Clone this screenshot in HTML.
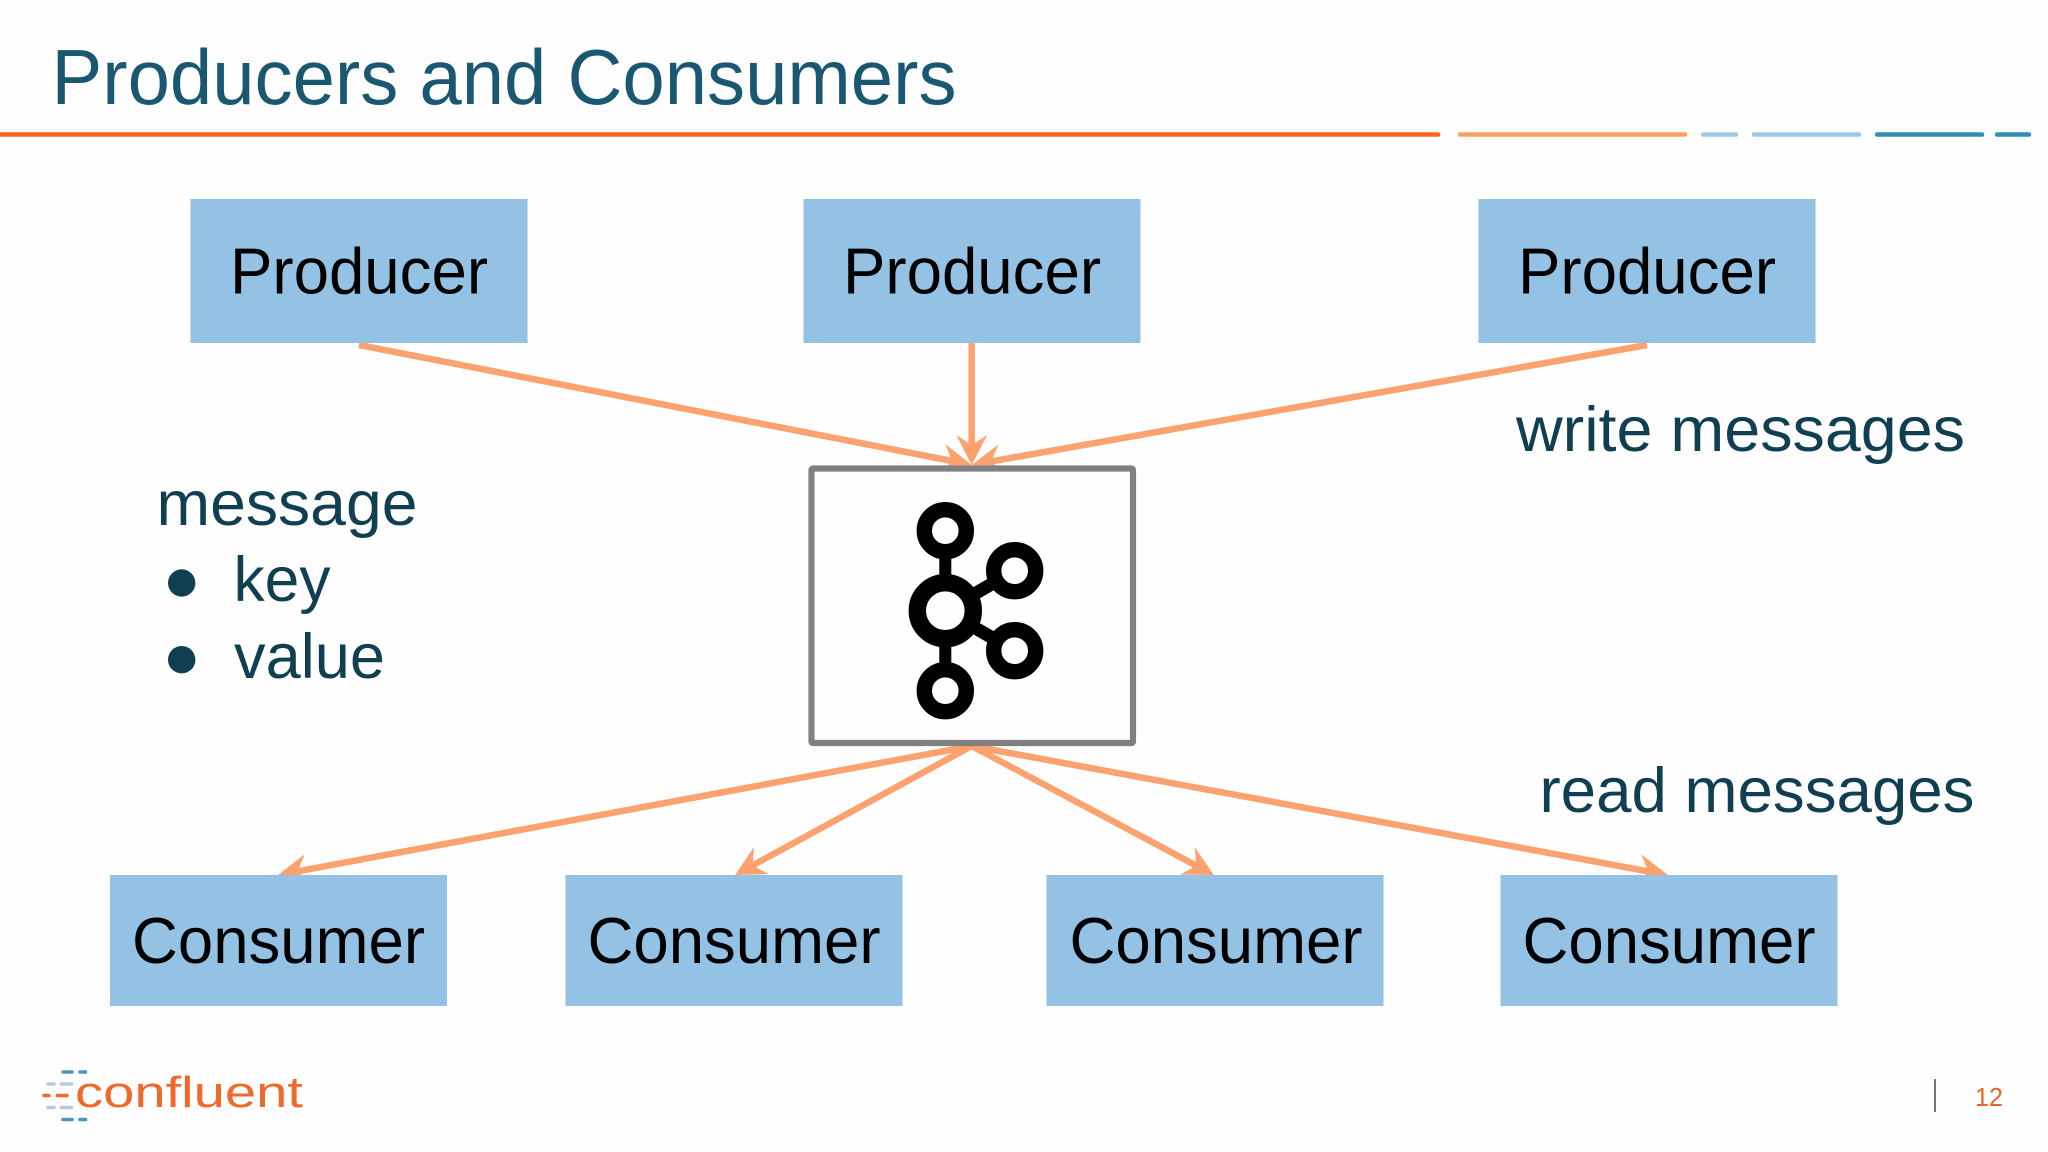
<!DOCTYPE html>
<html lang="en">
<head>
<meta charset="utf-8">
<title>Producers and Consumers</title>
<style>
html,body{margin:0;padding:0;background:#fefefe;width:2048px;height:1152px;overflow:hidden}
svg{display:block;font-family:"Liberation Sans",sans-serif}
</style>
</head>
<body>
<svg xmlns="http://www.w3.org/2000/svg" width="2048" height="1152" viewBox="0 0 2048 1152">
<defs>
<marker id="h" markerUnits="userSpaceOnUse" viewBox="-12 -18 34 36" markerWidth="34" markerHeight="36" refX="0" refY="0" orient="auto">
<path d="M-10,-15.5 L20,0 L-10,15.5 L0,0 z" fill="#fba26f"/>
</marker>
</defs>
<rect width="2048" height="1152" fill="#fefefe"/>

<!-- title -->
<text x="51.5" y="104" font-size="78" fill="#1a5872" textLength="905" lengthAdjust="spacingAndGlyphs">Producers and Consumers</text>

<!-- header rule -->
<g stroke-width="4.5" stroke-linecap="round" fill="none">
<line x1="0" y1="134.5" x2="1438" y2="134.5" stroke="#fb6420"/>
<line x1="1460" y1="134.5" x2="1685" y2="134.5" stroke="#f9a066"/>
<line x1="1703" y1="134.5" x2="1736" y2="134.5" stroke="#9fc6e4"/>
<line x1="1754" y1="134.5" x2="1859" y2="134.5" stroke="#9fc6e4"/>
<line x1="1877" y1="134.5" x2="1982" y2="134.5" stroke="#2d8fb5"/>
<line x1="1997" y1="134.5" x2="2029" y2="134.5" stroke="#2d8fb5"/>
</g>

<!-- arrows -->
<g stroke="#fba26f" stroke-width="6.5" fill="none">
<line x1="359" y1="345" x2="952" y2="461" marker-end="url(#h)"/>
<line x1="971.7" y1="343" x2="971.7" y2="445" marker-end="url(#h)"/>
<line x1="1647" y1="345" x2="991.4" y2="461.4" marker-end="url(#h)"/>
<line x1="971.7" y1="746" x2="297.7" y2="871.3" marker-end="url(#h)"/>
<line x1="971.7" y1="746" x2="752.6" y2="865.4" marker-end="url(#h)"/>
<line x1="971.7" y1="746" x2="1196.3" y2="865.6" marker-end="url(#h)"/>
<line x1="971.7" y1="746" x2="1648.3" y2="871.4" marker-end="url(#h)"/>
</g>

<!-- boxes -->
<g fill="#94c2e4">
<rect x="190.5" y="199" width="337" height="144"/>
<rect x="803.5" y="199" width="337" height="144"/>
<rect x="1478.5" y="199" width="337" height="144"/>
<rect x="110" y="875" width="337" height="131"/>
<rect x="565.5" y="875" width="337" height="131"/>
<rect x="1046.5" y="875" width="337" height="131"/>
<rect x="1500.5" y="875" width="337" height="131"/>
</g>
<g fill="#000" font-size="65">
<text x="230" y="293.5" textLength="258" lengthAdjust="spacingAndGlyphs">Producer</text>
<text x="843" y="293.5" textLength="258" lengthAdjust="spacingAndGlyphs">Producer</text>
<text x="1518" y="293.5" textLength="258" lengthAdjust="spacingAndGlyphs">Producer</text>
<text x="132" y="963" textLength="293" lengthAdjust="spacingAndGlyphs">Consumer</text>
<text x="587.5" y="963" textLength="293" lengthAdjust="spacingAndGlyphs">Consumer</text>
<text x="1069.5" y="963" textLength="293" lengthAdjust="spacingAndGlyphs">Consumer</text>
<text x="1522.5" y="963" textLength="293" lengthAdjust="spacingAndGlyphs">Consumer</text>
</g>

<!-- central box -->
<rect x="811.5" y="468.5" width="321.5" height="274.5" rx="1.5" fill="#fefefe" stroke="#808080" stroke-width="6.2"/>

<!-- kafka icon -->
<g fill="none" stroke="#000">
<line x1="945.3" y1="530" x2="945.3" y2="692" stroke-width="12"/>
<line x1="945.3" y1="610.7" x2="1014.7" y2="570.7" stroke-width="13"/>
<line x1="945.3" y1="610.7" x2="1014.7" y2="650.7" stroke-width="13"/>
<circle cx="945.3" cy="530.7" r="21" stroke-width="15.4" fill="#fefefe"/>
<circle cx="1014.7" cy="570.7" r="21" stroke-width="15.4" fill="#fefefe"/>
<circle cx="1014.7" cy="650.7" r="21" stroke-width="15.4" fill="#fefefe"/>
<circle cx="945.3" cy="690.7" r="21" stroke-width="15.4" fill="#fefefe"/>
<circle cx="945.3" cy="610.7" r="28" stroke-width="17.4" fill="#fefefe"/>
</g>

<!-- labels -->
<g fill="#103f52" font-size="63">
<text x="1516" y="451" textLength="449" lengthAdjust="spacingAndGlyphs">write messages</text>
<text x="1539.5" y="812" textLength="435" lengthAdjust="spacingAndGlyphs">read messages</text>
<text x="156.5" y="525" textLength="261" lengthAdjust="spacingAndGlyphs">message</text>
<text x="233.5" y="601" textLength="97" lengthAdjust="spacingAndGlyphs">key</text>
<text x="234" y="678" textLength="151" lengthAdjust="spacingAndGlyphs">value</text>
<circle cx="181.7" cy="583" r="13.7"/>
<circle cx="181.7" cy="659.7" r="13.7"/>
</g>

<!-- logo -->
<g stroke-width="3.6" stroke-linecap="round" fill="none">
<line x1="63" y1="1072" x2="72" y2="1072" stroke="#4a94c4"/>
<line x1="80" y1="1072" x2="85.5" y2="1072" stroke="#4a94c4"/>
<line x1="48" y1="1084" x2="54" y2="1084" stroke="#b6cbe3"/>
<line x1="61.5" y1="1084" x2="71.5" y2="1084" stroke="#b6cbe3"/>
<line x1="44" y1="1095.5" x2="49" y2="1095.5" stroke="#f0692b"/>
<line x1="57.5" y1="1095.5" x2="67" y2="1095.5" stroke="#f0692b"/>
<line x1="48" y1="1107.5" x2="54" y2="1107.5" stroke="#b6cbe3"/>
<line x1="61.5" y1="1107.5" x2="71.5" y2="1107.5" stroke="#b6cbe3"/>
<line x1="63" y1="1119.5" x2="72" y2="1119.5" stroke="#4a94c4"/>
<line x1="80" y1="1119.5" x2="85.5" y2="1119.5" stroke="#4a94c4"/>
</g>
<text x="75" y="1107" font-size="44" fill="#f0692b" textLength="228" lengthAdjust="spacingAndGlyphs">confluent</text>

<!-- page number -->
<rect x="1934" y="1079" width="2" height="33" fill="#77777d"/>
<text x="1975" y="1106" font-size="26" fill="#e8662a" textLength="28" lengthAdjust="spacingAndGlyphs">12</text>
</svg>
</body>
</html>
